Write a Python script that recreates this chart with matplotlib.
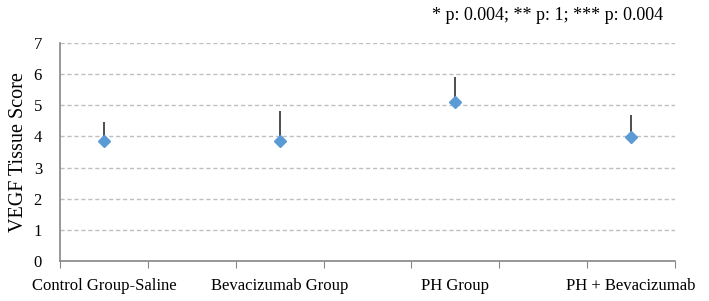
import numpy as np
import matplotlib
matplotlib.use('Agg')
import matplotlib.pyplot as plt

# data
groups = ["Control Group-Saline", "Bevacizumab Group", "PH Group", "PH + Bevacizumab"]
scores = [3.84, 3.84, 5.10, 3.99]
upper_err = [0.62, 0.98, 0.81, 0.70]
y_ticks = [0, 1, 2, 3, 4, 5, 6, 7]
note = "* p: 0.004; ** p: 1; *** p: 0.004"

plt.rcParams['font.family'] = ['Liberation Serif', 'DejaVu Serif']

fig = plt.figure(figsize=(7.09, 3.01), dpi=100)
ax = fig.add_axes([60 / 709, 40 / 301, 615 / 709, 218 / 301])

x = np.arange(len(groups))
ax.errorbar(x, scores, yerr=[np.zeros(len(scores)), upper_err], fmt='none',
            ecolor='#303030', elinewidth=1.2, capsize=0, zorder=2)
ax.plot(x, scores, linestyle='none', marker='D', markersize=6.5,
        color='#5B9BD5', zorder=3)

ax.set_xlim(-0.25, len(groups) - 0.75)
ax.set_ylim(0, 7)
ax.set_yticks(y_ticks)
ax.tick_params(axis='y', length=0, labelsize=12, pad=13)

# tick marks at half-category spacing, labels centered on categories
ax.set_xticks(np.arange(-0.25, len(groups) - 0.5, 0.5))
ax.set_xticklabels([])
ax.tick_params(axis='x', which='major', length=5, color='#868686', direction='out')
ax.set_xticks(x, minor=True)
ax.set_xticklabels(groups, minor=True)
ax.tick_params(axis='x', which='minor', length=0, labelsize=12, pad=12)

ax.yaxis.grid(True, linestyle=(0, (3, 2)), color='#BFBFBF', linewidth=1)
ax.set_axisbelow(True)
for s in ['top', 'right']:
    ax.spines[s].set_visible(False)
for s in ['left', 'bottom']:
    ax.spines[s].set_color('#868686')
    ax.spines[s].set_linewidth(1.2)

ax.set_ylabel("VEGF Tissue Score", fontsize=14.5, labelpad=4)
fig.text(548 / 709, 1 - 16 / 301, note, ha='center', va='center', fontsize=13)

fig.savefig('out.png', dpi=100)
